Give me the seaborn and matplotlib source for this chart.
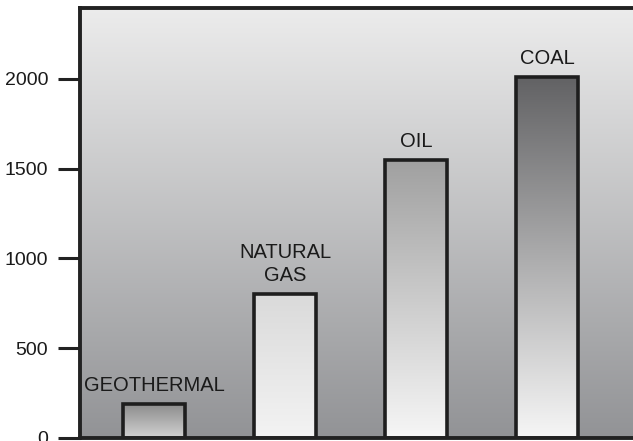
import numpy as np
import pandas as pd
import matplotlib
matplotlib.use("Agg")
import matplotlib.pyplot as plt
import seaborn as sns
from matplotlib.colors import LinearSegmentedColormap

categories = ["GEOTHERMAL", "NATURAL\nGAS", "OIL", "COAL"]
values = [190, 800, 1550, 2010]
yticks = [0, 500, 1000, 1500, 2000]
# gradient colours (top, bottom) for each bar
bar_top = ["#8a8a8a", "#dadada", "#a0a0a0", "#626264"]
bar_bottom = ["#d2d2d2", "#f3f3f3", "#f6f6f6", "#f6f6f6"]
bg_top, bg_bottom = "#ececec", "#929396"

sns.set_style("white")
plt.rcParams["font.family"] = ["Liberation Sans", "DejaVu Sans"]

df = pd.DataFrame({"source": categories, "value": values})

fig = plt.figure(figsize=(6.33, 4.41), dpi=100)
ax = fig.add_axes([80 / 633, 3 / 441, 572 / 633, 430 / 441])

sns.barplot(data=df, x="source", y="value", order=categories, ax=ax,
            width=0.47, color="white", edgecolor="#1e1e1e", linewidth=2.6,
            zorder=3)

# background gradient
bg_cmap = LinearSegmentedColormap.from_list("bg", [bg_bottom, bg_top])
grad = np.linspace(0, 1, 256).reshape(-1, 1)
ax.imshow(grad, cmap=bg_cmap, aspect="auto", origin="lower",
          extent=[0, 1, 0, 1], transform=ax.transAxes, zorder=0)

# bar gradients
for i, patch in enumerate(ax.patches):
    x0, y0 = patch.get_x(), patch.get_y()
    w, h = patch.get_width(), patch.get_height()
    patch.set_facecolor("none")
    cmap = LinearSegmentedColormap.from_list(f"b{i}", [bar_bottom[i], bar_top[i]])
    im = ax.imshow(grad, cmap=cmap, aspect="auto", origin="lower",
                   extent=[x0, x0 + w, y0, y0 + h], zorder=2)
    im.set_clip_path(patch)
    ax.text(x0 + w / 2, y0 + h + 50, categories[i], ha="center", va="bottom",
            fontsize=14.5, color="#1a1a1a", linespacing=1.3, zorder=4)

ax.set_xlim(-0.565, 3.8)
ax.set_ylim(0, 2395)
ax.set_yticks(yticks)
ax.set_yticklabels([str(t) for t in yticks], fontsize=14, color="#1a1a1a")
ax.set_xticks([])
ax.set_xlabel("")
ax.set_ylabel("")
ax.tick_params(axis="y", direction="out", length=16, width=2.2, color="#222222",
               pad=7, left=True)
for side in ["left", "top", "bottom", "right"]:
    ax.spines[side].set_linewidth(2.8)
    ax.spines[side].set_color("#222222")
    ax.spines[side].set_zorder(5)

fig.savefig("out.png", dpi=100)
